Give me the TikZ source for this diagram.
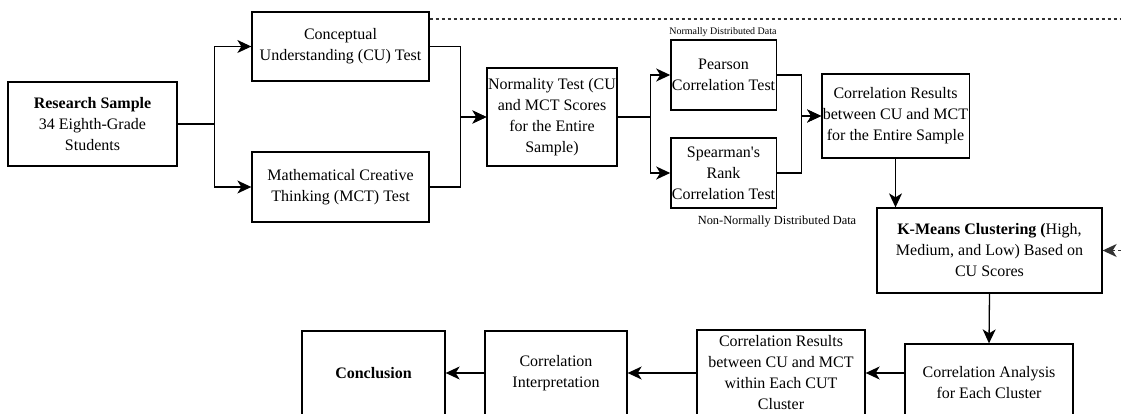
\documentclass[tikz,border=0pt]{standalone}
\usepackage{fontspec}
\setmainfont{Liberation Serif}
\usepackage{tikz}
\usetikzlibrary{arrows.meta}

\begin{document}
\begin{tikzpicture}[x=1pt,y=-1pt,
  blok/.style={draw,rectangle,line width=1.3pt,align=center,inner sep=1pt,font=\fontsize{16}{21}\selectfont},
  lijn/.style={line width=1.3pt,-{Stealth[length=14pt,width=13pt,inset=4pt]}},
  stip/.style={line width=1.3pt,dash pattern=on 3pt off 3pt,draw=black!80}]
\useasboundingbox (0,0) rectangle (1121,414);
\clip (0,0) rectangle (1121,414);
\node[blok,minimum width=169pt,minimum height=84pt] (rs) at (92.5,124) {\textbf{Research Sample}\\34 Eighth-Grade\\Students};
\node[blok,minimum width=177pt,minimum height=69pt] (cu) at (340.5,46.5) {Conceptual\\Understanding (CU) Test};
\node[blok,minimum width=177pt,minimum height=70pt] (mct) at (340.5,187) {Mathematical Creative\\Thinking (MCT) Test};
\node[blok,minimum width=114pt,minimum height=98pt] (nt) at (552,117) {Normality Test (CU\\and MCT Scores\\for the Entire\\Sample)};
\node[blok,minimum width=91pt,minimum height=70pt] (pe) at (723.5,75) {Pearson\\Correlation Test};
\node[blok,minimum width=91pt,minimum height=70pt] (sp) at (723.5,173) {Spearman\textquotesingle s\\Rank\\Correlation Test};
\node[blok,minimum width=137pt,minimum height=84pt] (cr) at (895.5,116) {Correlation Results\\between CU and MCT\\for the Entire Sample};
\node[blok,minimum width=225pt,minimum height=85pt] (km) at (989.5,250.5) {\textbf{K-Means Clustering (}High,\\Medium, and Low) Based on\\CU Scores};
\node[blok,minimum width=168pt,minimum height=78pt] (ca) at (989,383) {Correlation Analysis\\for Each Cluster};
\node[blok,minimum width=168pt,minimum height=86pt] (crc) at (781,373) {Correlation Results\\between CU and MCT\\within Each CUT\\Cluster};
\node[blok,minimum width=142pt,minimum height=84pt] (ci) at (556,373) {Correlation\\Interpretation};
\node[blok,minimum width=143pt,minimum height=84pt] (conc) at (373.5,373) {\textbf{Conclusion}};
\node[font=\fontsize{10}{12}\selectfont] (lbn) at (723,32) {Normally Distributed Data};
\node[font=\fontsize{12.4}{14}\selectfont] (lbnn) at (777,222) {Non-Normally Distributed Data};
\coordinate (rnd1) at (1121,19);
\coordinate (rnd2) at (1121,250.5);
\draw[lijn] (rs.east) -- ++(37,0) |- (cu.west);
\draw[lijn] (rs.east) -- ++(37,0) |- (mct.west);
\draw[lijn] (cu.east) -- ++(31,0) |- (nt.west);
\draw[lijn] (mct.east) -- ++(31,0) |- (nt.west);
\draw[lijn] (nt.east) -- ++(33,0) |- (pe.west);
\draw[lijn] (nt.east) -- ++(33,0) |- (sp.west);
\draw[lijn] (pe.east) -- ++(25,0) |- (cr.west);
\draw[lijn] (sp.east) -- ++(25,0) |- (cr.west);
\draw[lijn] (cr.south) -- (cr.south |- km.north);
\draw[lijn] (km.south) -- (ca.north);
\draw[lijn] (ca.west |- crc.east) -- (crc.east);
\draw[lijn] (crc.west) -- (ci.east);
\draw[lijn] (ci.west) -- (conc.east);
\draw[stip] (cu.east |- rnd1) -- (rnd1);
\draw[stip,lijn] (rnd2) -- (km.east);
\end{tikzpicture}
\end{document}
